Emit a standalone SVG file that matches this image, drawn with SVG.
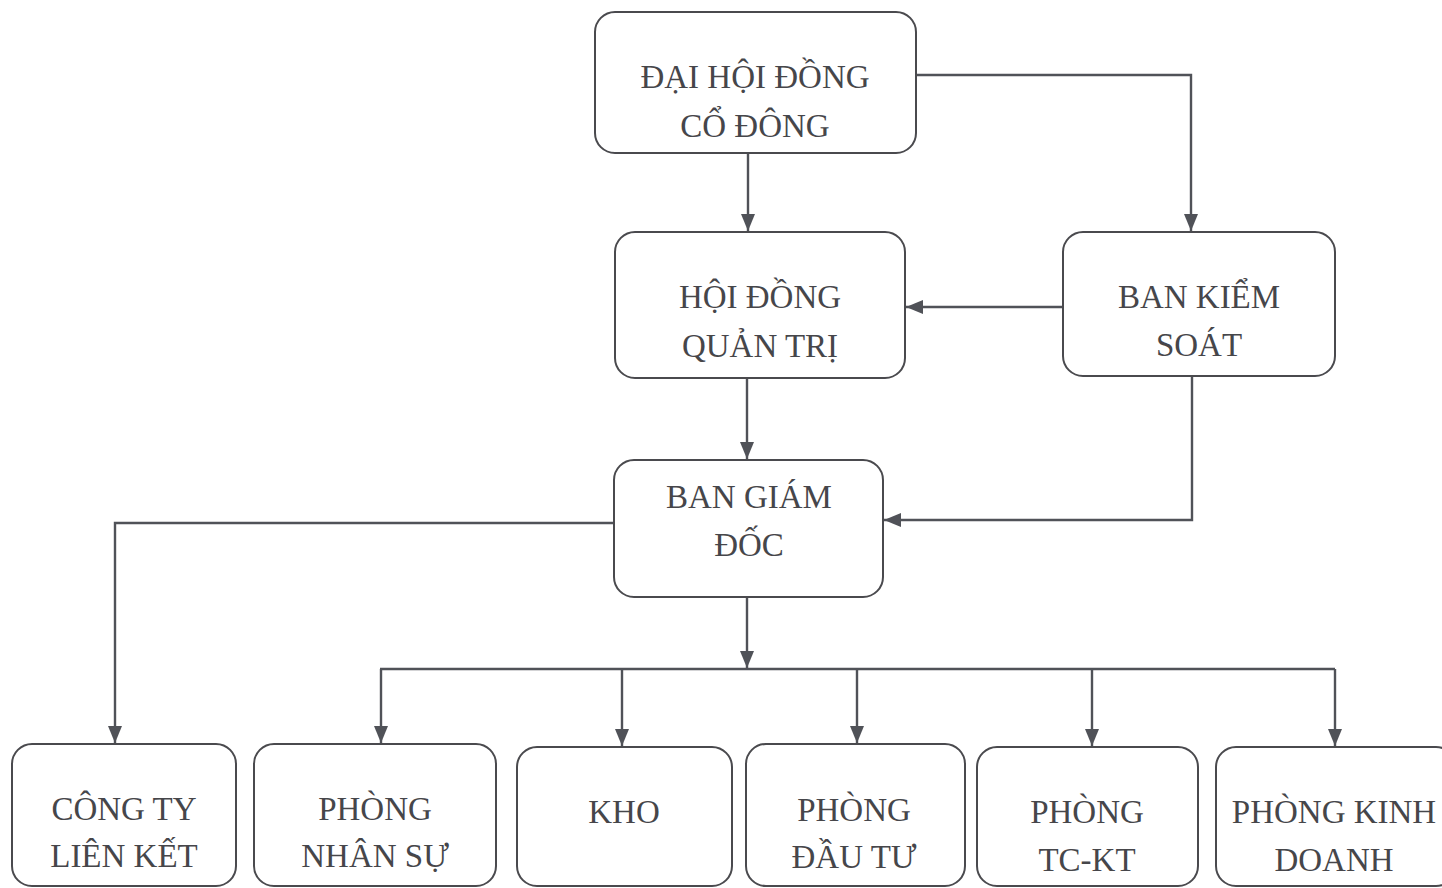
<svg xmlns="http://www.w3.org/2000/svg" width="1442" height="888" viewBox="0 0 1442 888">
<defs>
<marker id="arr" markerUnits="userSpaceOnUse" markerWidth="18" markerHeight="16" refX="17" refY="7" orient="auto">
<path d="M0,0 L17,7 L0,14 z" fill="#505258"/>
</marker>
<style>
.box{fill:#fff;stroke:#4a4a4e;stroke-width:2}
.t{font-family:'Liberation Serif','Times New Roman',serif;font-size:33px;fill:#46464a;text-anchor:middle}
.c{fill:none;stroke:#505258;stroke-width:2.4}
</style>
</defs>
<rect width="1442" height="888" fill="#fff"/>
<g id="connectors">
<path class="c" d="M748,153 V231" marker-end="url(#arr)"/>
<path class="c" d="M916,75 H1191 V231" marker-end="url(#arr)"/>
<path class="c" d="M1063,307 H906" marker-end="url(#arr)"/>
<path class="c" d="M747,378 V459" marker-end="url(#arr)"/>
<path class="c" d="M1192,376 V520 H884" marker-end="url(#arr)"/>
<path class="c" d="M747,597 V668" marker-end="url(#arr)"/>
<path class="c" d="M380,669 H1335"/>
<path class="c" d="M614,523 H115 V743" marker-end="url(#arr)"/>
<path class="c" d="M381,669 V743" marker-end="url(#arr)"/>
<path class="c" d="M622,669 V746" marker-end="url(#arr)"/>
<path class="c" d="M857,669 V743" marker-end="url(#arr)"/>
<path class="c" d="M1092,669 V746" marker-end="url(#arr)"/>
<path class="c" d="M1335,669 V746" marker-end="url(#arr)"/>
</g>
<g id="dhdcd"><rect class="box" x="595" y="12" width="321" height="141" rx="20"/><text class="t" x="755" y="88">ĐẠI HỘI ĐỒNG</text><text class="t" x="755" y="137">CỔ ĐÔNG</text></g>
<g id="hdqt"><rect class="box" x="615" y="232" width="290" height="146" rx="20"/><text class="t" x="760" y="308">HỘI ĐỒNG</text><text class="t" x="760" y="357">QUẢN TRỊ</text></g>
<g id="bks"><rect class="box" x="1063" y="232" width="272" height="144" rx="20"/><text class="t" x="1199" y="308">BAN KIỂM</text><text class="t" x="1199" y="356">SOÁT</text></g>
<g id="bgd"><rect class="box" x="614" y="460" width="269" height="137" rx="20"/><text class="t" x="749" y="508">BAN GIÁM</text><text class="t" x="749" y="556">ĐỐC</text></g>
<g id="ctlk"><rect class="box" x="12" y="744" width="224" height="142" rx="20"/><text class="t" x="124" y="820">CÔNG TY</text><text class="t" x="124" y="867">LIÊN KẾT</text></g>
<g id="pns"><rect class="box" x="254" y="744" width="242" height="142" rx="20"/><text class="t" x="375" y="820">PHÒNG</text><text class="t" x="375" y="867">NHÂN SỰ</text></g>
<g id="kho"><rect class="box" x="517" y="747" width="215" height="139" rx="20"/><text class="t" x="624" y="823">KHO</text></g>
<g id="pdt"><rect class="box" x="746" y="744" width="219" height="142" rx="20"/><text class="t" x="854" y="821">PHÒNG</text><text class="t" x="854" y="868">ĐẦU TƯ</text></g>
<g id="ptckt"><rect class="box" x="977" y="747" width="221" height="139" rx="20"/><text class="t" x="1087" y="823">PHÒNG</text><text class="t" x="1087" y="871">TC-KT</text></g>
<g id="pkd"><rect class="box" x="1216" y="747" width="240" height="139" rx="20"/><text class="t" x="1334" y="823">PHÒNG KINH</text><text class="t" x="1334" y="871">DOANH</text></g>
</svg>
